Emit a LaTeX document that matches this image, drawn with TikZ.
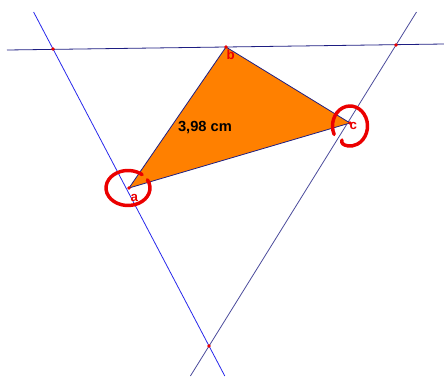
\documentclass[tikz,border=0pt]{standalone}
\usepackage{fontspec}
\setmainfont{Liberation Sans}
\definecolor{geoorange}{RGB}{255,128,0}
\definecolor{geonavy}{RGB}{30,30,130}
\definecolor{geoblue}{RGB}{40,40,235}
\definecolor{geored}{RGB}{235,0,0}
\tikzset{every picture/.style={line width=0.75pt}}

\begin{document}
\begin{tikzpicture}[x=0.75pt,y=0.75pt,yscale=-1,xscale=1,
  thinline/.style={line width=0.6pt},
  reddot/.style={fill=geored},
  ring/.style={draw=geored,line width=2.6pt,line cap=round},
  vlabel/.style={text=geored,font=\bfseries\fontsize{10}{12}\selectfont,inner sep=0.75pt}]
\useasboundingbox (0,0) rectangle (444,376);

%Vertices and intersections
\coordinate (a) at (129,188);
\coordinate (b) at (226,47);
\coordinate (c) at (350,123);
\coordinate (p) at (53,49);
\coordinate (q) at (396,45);
\coordinate (r) at (209,346);
%Line ends
\coordinate (t1) at (7,50);
\coordinate (t2) at (444,44);
\coordinate (l1) at (33.6,12);
\coordinate (l2) at (224.8,376);
\coordinate (s1) at (416.5,12);
\coordinate (s2) at (190.4,376);

%Straight Lines
\draw [thinline,geonavy] (t1) -- (t2) ;
%Straight Lines
\draw [thinline,geoblue] (l1) -- (l2) ;
%Straight Lines
\draw [thinline,geonavy!80!white] (s1) -- (s2) ;

%Shape: Triangle
\filldraw [fill=geoorange,draw=geonavy,thinline] (a) -- (b) -- (c) -- cycle ;

%Points
\foreach \pt in {a,b,c,p,q,r}
  \fill [reddot] (\pt) circle (1.8) ;

%Shape: Arc
\draw [ring] ([shift={(-28:22 and 17.5)}]128,188) arc [start angle=-28,end angle=310,x radius=22,y radius=17.5] ;
%Shape: Arc
\draw [ring] ([shift={(155:17.5 and 20)}]350,126) arc [start angle=155,end angle=458,x radius=17.5,y radius=20] .. controls (343,145) and (341,143) .. (342,140) ;

% Text Node
\node [vlabel,anchor=north west] (alabel) at (129,193) {a};
% Text Node
\node [vlabel,anchor=north west] (blabel) at (225,48) {b};
% Text Node
\node [vlabel,anchor=north west] (clabel) at (348,121) {c};
% Text Node
\node [font=\bfseries\fontsize{11}{13}\selectfont] (len) at (205,128) {3,98 cm};

\end{tikzpicture}
\end{document}
